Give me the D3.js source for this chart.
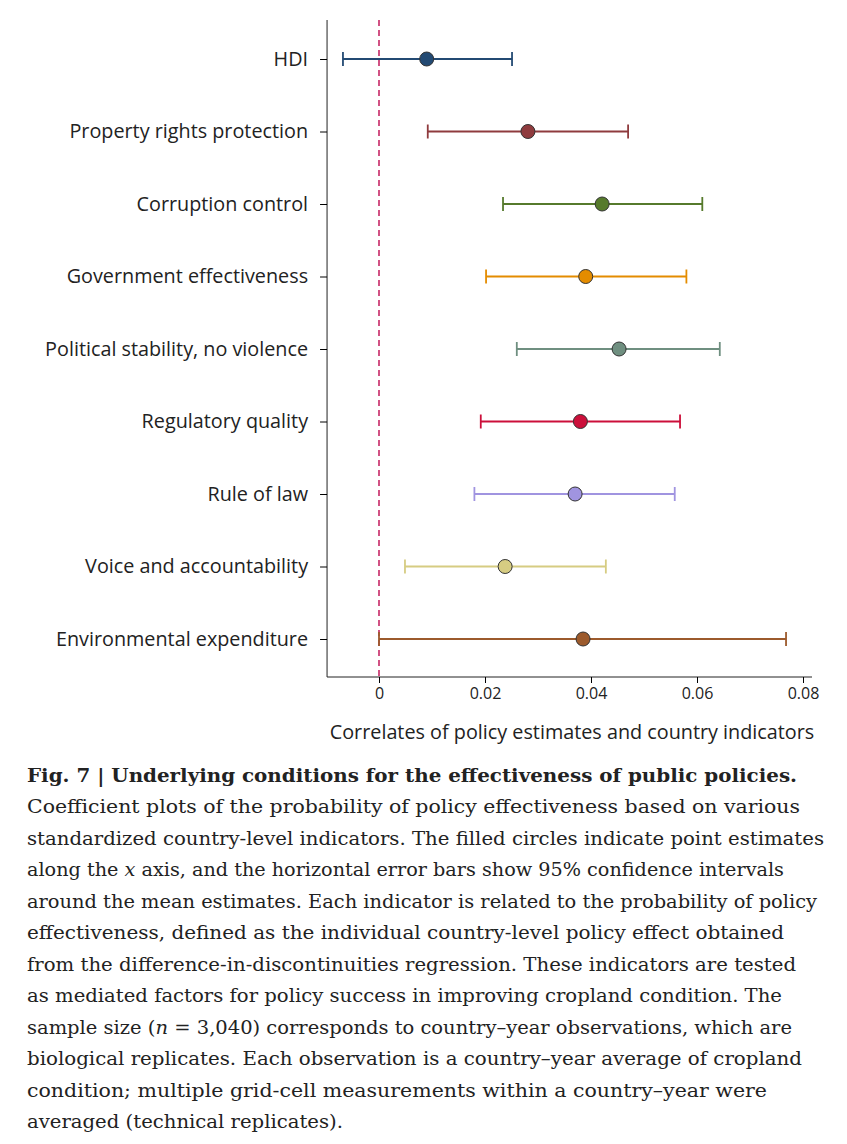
<!DOCTYPE html>
<html lang="en">
<head>
<meta charset="UTF-8">
<script src="https://cdn.jsdelivr.net/npm/d3@7"></script>
<style>
  body { margin: 0; background: #fff; }
  .cap { font-family: "DejaVu Serif", serif; font-size: 19px; fill: #222; }
</style>
</head>
<body>
<svg id="chart" width="847" height="1144"></svg>
<script>
const labels = ["HDI", "Property rights protection", "Corruption control", "Government effectiveness",
  "Political stability, no violence", "Regulatory quality", "Rule of law", "Voice and accountability",
  "Environmental expenditure"];
const estimates = [0.009, 0.0281, 0.0421, 0.039, 0.0453, 0.038, 0.037, 0.0238, 0.0385];
const lower = [-0.0068, 0.0092, 0.0234, 0.0202, 0.026, 0.0192, 0.018, 0.0049, 0.0];
const upper = [0.0251, 0.047, 0.061, 0.058, 0.0643, 0.0568, 0.0558, 0.0428, 0.0768];
const colors = ["#234a73", "#8f3b3e", "#567a2c", "#e48c00", "#6f8f80", "#cc0f3a", "#a094e0", "#d6cc82", "#9c5a2c"];
const xTicks = [0, 0.02, 0.04, 0.06, 0.08];
const xTickLabels = ["0", "0.02", "0.04", "0.06", "0.08"];

const svg = d3.select("#chart");
const x = d3.scaleLinear().domain([0, 0.08]).range([379, 803]);
const y = d3.scalePoint().domain(labels).range([59, 639]);
const left = x(-0.0098), right = x(0.0817), bottom = 677;
const font = "'Open Sans', sans-serif";

svg.append("line").attr("x1", left).attr("x2", left).attr("y1", 20).attr("y2", bottom).attr("stroke", "#222");
svg.append("line").attr("x1", left).attr("x2", right).attr("y1", bottom).attr("y2", bottom).attr("stroke", "#222");

const ax = svg.append("g").attr("transform", `translate(0,${bottom})`)
  .call(d3.axisBottom(x).tickValues(xTicks).tickFormat((d, i) => xTickLabels[i]).tickSize(6).tickPadding(5));
ax.select(".domain").remove();
ax.selectAll("text").attr("font-family", font).attr("font-size", 16).attr("fill", "#222");

const ay = svg.append("g").attr("transform", `translate(${left},0)`)
  .call(d3.axisLeft(y).tickSize(7).tickPadding(12));
ay.select(".domain").remove();
ay.selectAll("text").attr("font-family", font).attr("font-size", 19.8).attr("fill", "#222");

svg.append("line").attr("x1", x(0)).attr("x2", x(0)).attr("y1", 20).attr("y2", bottom)
  .attr("stroke", "#c2185b").attr("stroke-width", 1.5).attr("stroke-dasharray", "6,4");

const rows = svg.append("g").selectAll("g").data(labels).join("g");
rows.append("line").attr("x1", (d, i) => x(lower[i])).attr("x2", (d, i) => x(upper[i]))
  .attr("y1", d => y(d)).attr("y2", d => y(d)).attr("stroke", (d, i) => colors[i]).attr("stroke-width", 1.8);
[lower, upper].forEach(arr => rows.append("line")
  .attr("x1", (d, i) => x(arr[i])).attr("x2", (d, i) => x(arr[i]))
  .attr("y1", d => y(d) - 7).attr("y2", d => y(d) + 7).attr("stroke", (d, i) => colors[i]).attr("stroke-width", 1.8));
rows.append("circle").attr("cx", (d, i) => x(estimates[i])).attr("cy", d => y(d)).attr("r", 7)
  .attr("fill", (d, i) => colors[i]).attr("stroke", "#333").attr("stroke-width", 1);

svg.append("text").attr("x", 572).attr("y", 739).attr("text-anchor", "middle")
  .attr("font-family", font).attr("font-size", 19.8).attr("fill", "#222")
  .text("Correlates of policy estimates and country indicators");

// each line: list of [text, italic]
const capLines = [
  [["Coefficient plots of the probability of policy effectiveness based on various", 0]],
  [["standardized country-level indicators. The filled circles indicate point estimates", 0]],
  [["along the ", 0], ["x", 1], [" axis, and the horizontal error bars show 95% confidence intervals", 0]],
  [["around the mean estimates. Each indicator is related to the probability of policy", 0]],
  [["effectiveness, defined as the individual country-level policy effect obtained", 0]],
  [["from the difference-in-discontinuities regression. These indicators are tested", 0]],
  [["as mediated factors for policy success in improving cropland condition. The", 0]],
  [["sample size (", 0], ["n", 1], [" = 3,040) corresponds to country\u2013year observations, which are", 0]],
  [["biological replicates. Each observation is a country\u2013year average of cropland", 0]],
  [["condition; multiple grid-cell measurements within a country\u2013year were", 0]],
  [["averaged (technical replicates).", 0]]
];
const capWidths = [773, 797, 757, 790, 757, 769, 755, 765, 775, 740, 316];
svg.append("text").attr("class", "cap").attr("x", 27).attr("y", 782)
  .attr("font-weight", "bold").attr("textLength", 770).attr("lengthAdjust", "spacingAndGlyphs")
  .text("Fig. 7 | Underlying conditions for the effectiveness of public policies.");
const cl = svg.selectAll("text.capl").data(capLines).join("text").attr("class", "cap capl")
  .attr("x", 27).attr("y", (d, i) => 813 + i * 31.5)
  .attr("textLength", (d, i) => capWidths[i]).attr("lengthAdjust", "spacingAndGlyphs");
cl.selectAll("tspan").data(d => d).join("tspan")
  .attr("font-style", d => d[1] ? "italic" : "normal").text(d => d[0]);
</script>
</body>
</html>
